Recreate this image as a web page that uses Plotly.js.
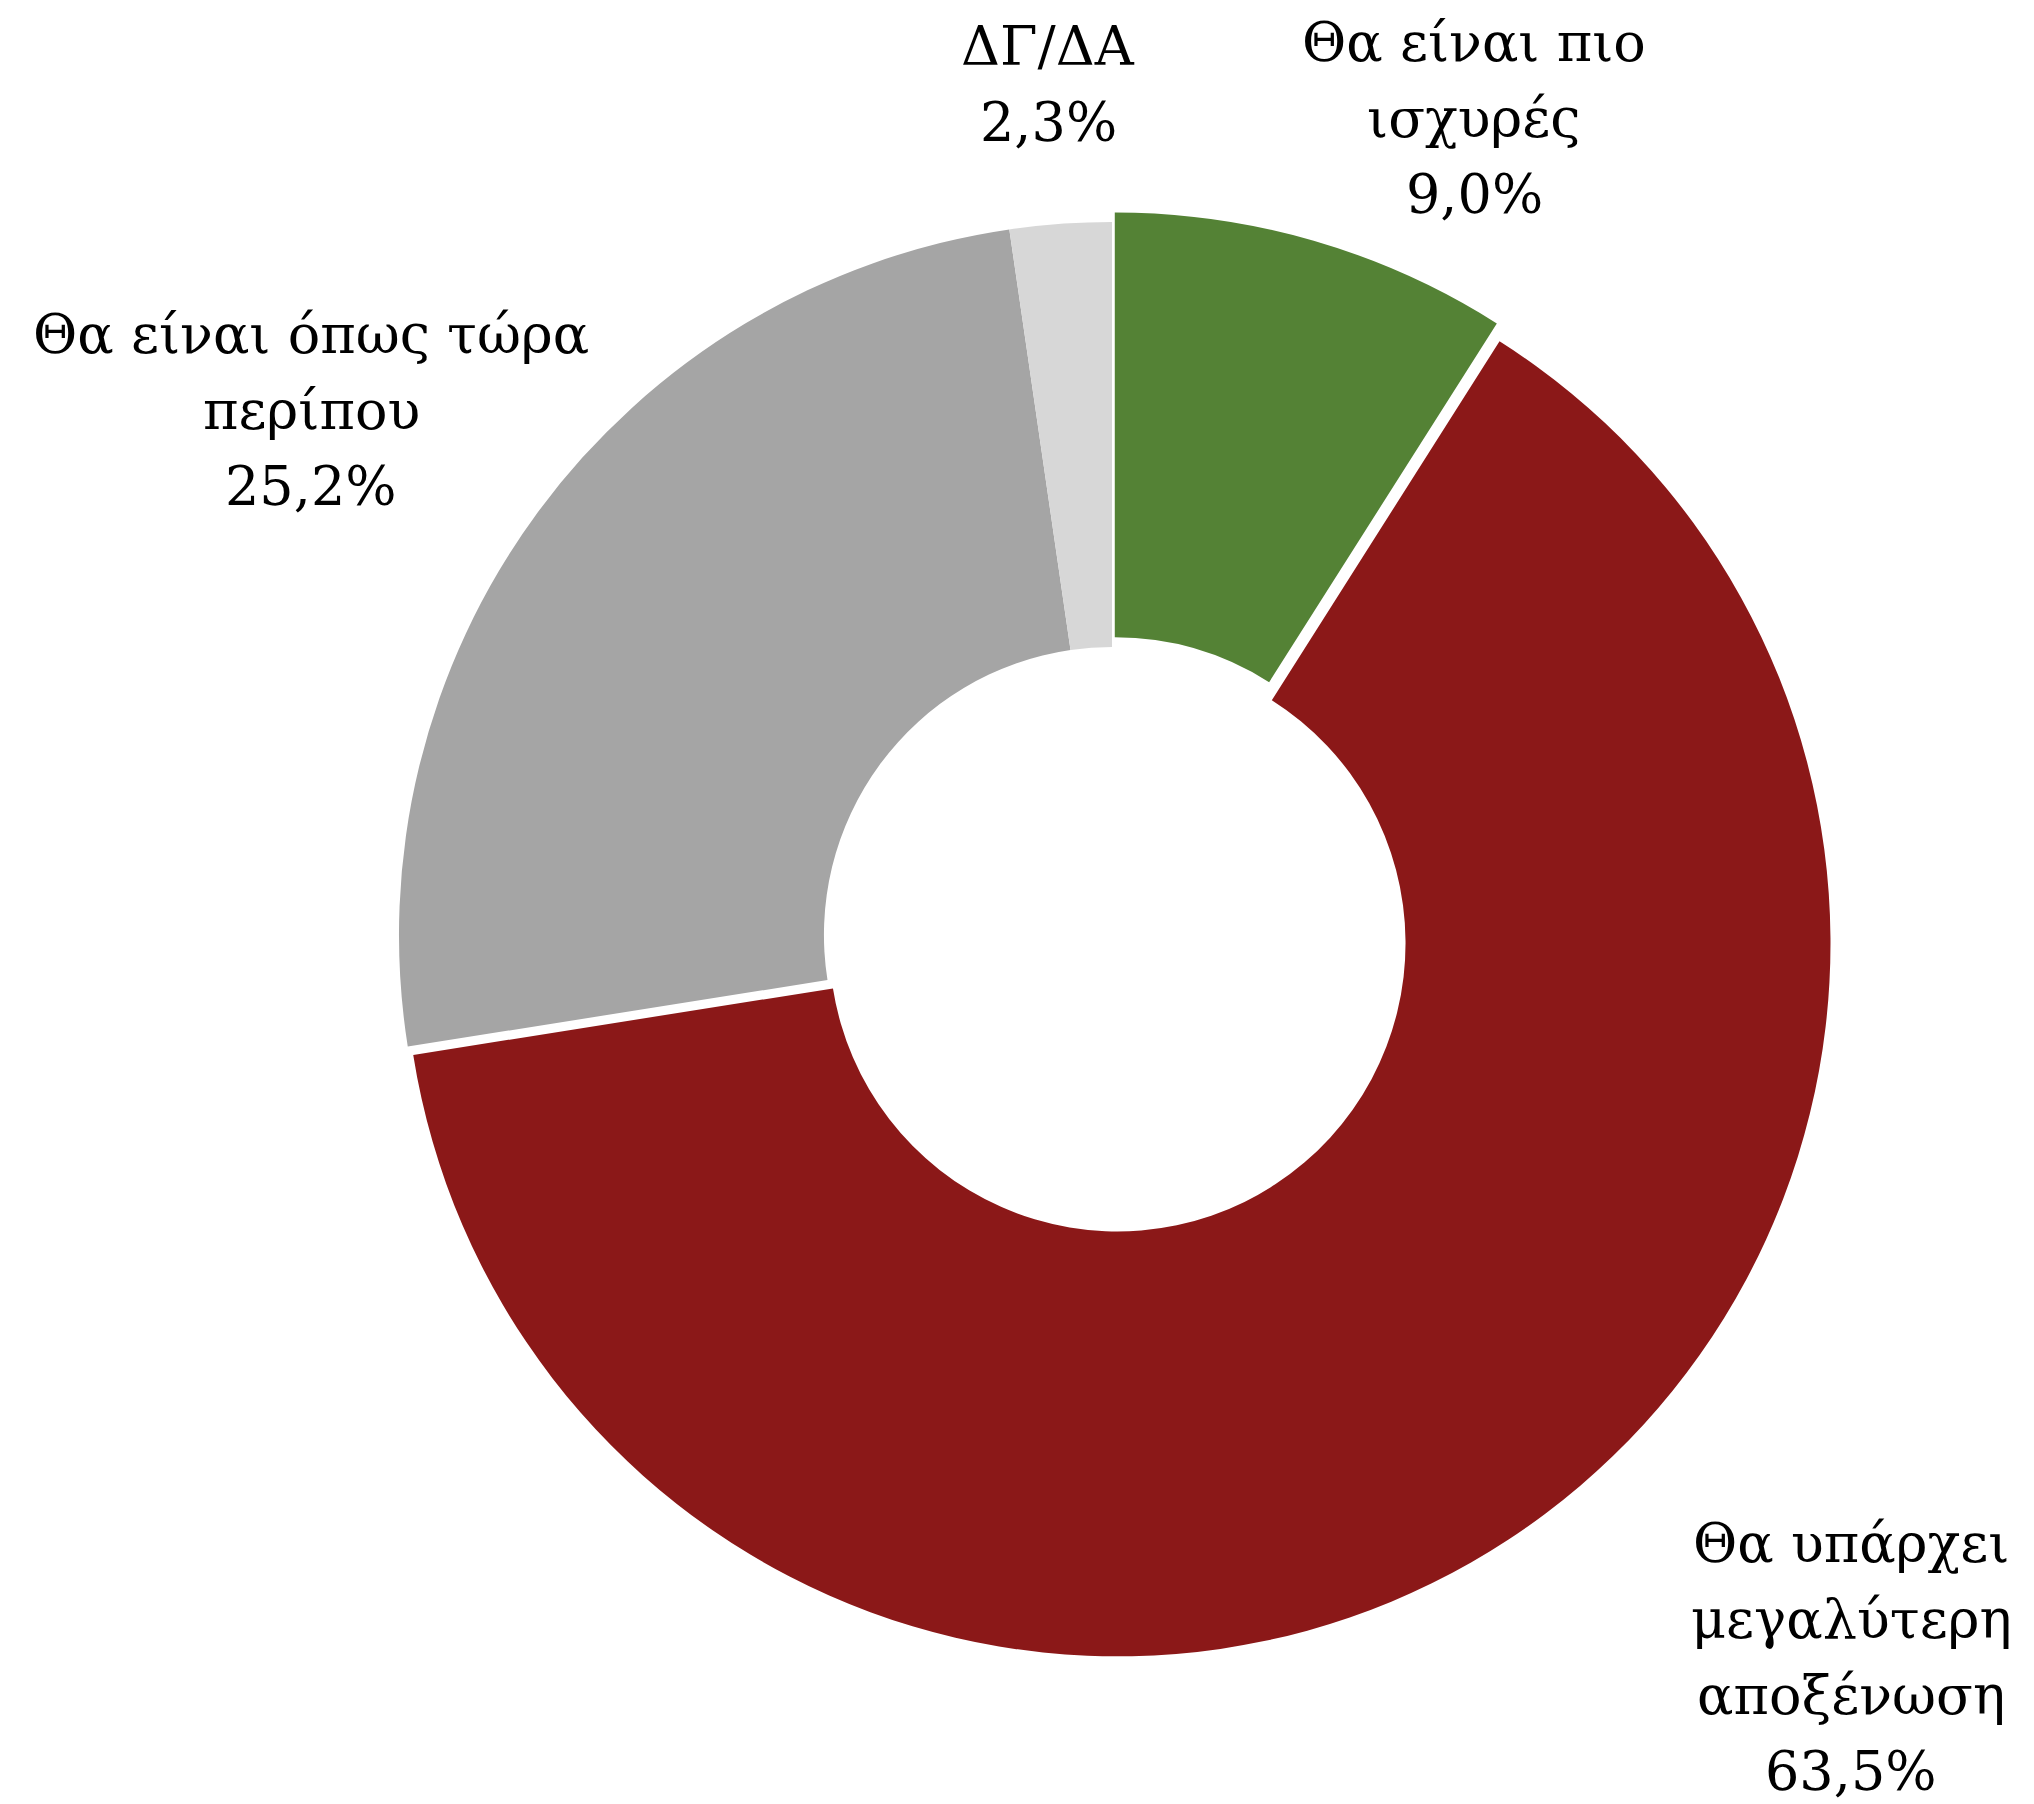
<!DOCTYPE html>
<html>
<head>
<meta charset="utf-8">
<script src="https://cdn.plot.ly/plotly-3.0.1.min.js"></script>
<style>
  html, body { margin: 0; padding: 0; background: #fff; }
  #chart { width: 2034px; height: 1804px; }
</style>
</head>
<body>
<div id="chart"></div>
<script>
// answers, clockwise from 12 o'clock
var labels = ['Θα είναι πιο ισχυρές', 'Θα υπάρχει μεγαλύτερη αποξένωση', 'Θα είναι όπως τώρα περίπου', 'ΔΓ/ΔΑ'];
var values = [9.0, 63.5, 25.2, 2.3];
var colors = ['#548235', '#8b1818', '#a5a5a5', '#d7d7d7'];
var pulls = [0.014, 0.014, 0, 0];

// label lines as they are broken in the picture
var labelLines = [
  ['Θα είναι πιο', 'ισχυρές'],
  ['Θα υπάρχει', 'μεγαλύτερη', 'αποξένωση'],
  ['Θα είναι όπως τώρα', 'περίπου'],
  ['ΔΓ/ΔΑ']
];

// where each label block sits (pixels) and its line step
var labelPos = [
  {x: 1474, y: 42},
  {x: 1851, y: 1543},
  {x: 311, y: 334},
  {x: 1048, y: 47}
];
var lineStep = 76;

var W = 2034, H = 1804;

function pct(v) {
  return v.toFixed(1).replace('.', ',') + '%';
}

function draw() {
  try {
    var trace = {
      type: 'pie',
      labels: labels,
      values: values,
      sort: false,
      direction: 'clockwise',
      rotation: 0,
      hole: 0.404,
      pull: pulls,
      marker: {colors: colors, line: {width: 0}},
      textinfo: 'none',
      hoverinfo: 'label+percent',
      domain: {x: [389 / W, 1835 / W], y: [146 / H, 1592 / H]}
    };

    var annotations = [];
    for (var i = 0; i < labels.length; i++) {
      var lines = labelLines[i].concat([pct(values[i])]);
      for (var j = 0; j < lines.length; j++) {
        annotations.push({
          xref: 'paper', yref: 'paper',
          x: labelPos[i].x / W,
          y: 1 - (labelPos[i].y + j * lineStep) / H,
          xanchor: 'center', yanchor: 'middle',
          text: lines[j],
          showarrow: false,
          font: {family: '"DejaVu Serif", serif', size: 54, color: '#000'}
        });
      }
    }

    var layout = {
      width: W,
      height: H,
      margin: {l: 0, r: 0, t: 0, b: 0},
      paper_bgcolor: '#fff',
      showlegend: false,
      annotations: annotations
    };

    Plotly.newPlot('chart', [trace], layout, {displayModeBar: false, staticPlot: true});
  }
  catch (err) {
    console.error(err);
  }
}
draw();
</script>
</body>
</html>
